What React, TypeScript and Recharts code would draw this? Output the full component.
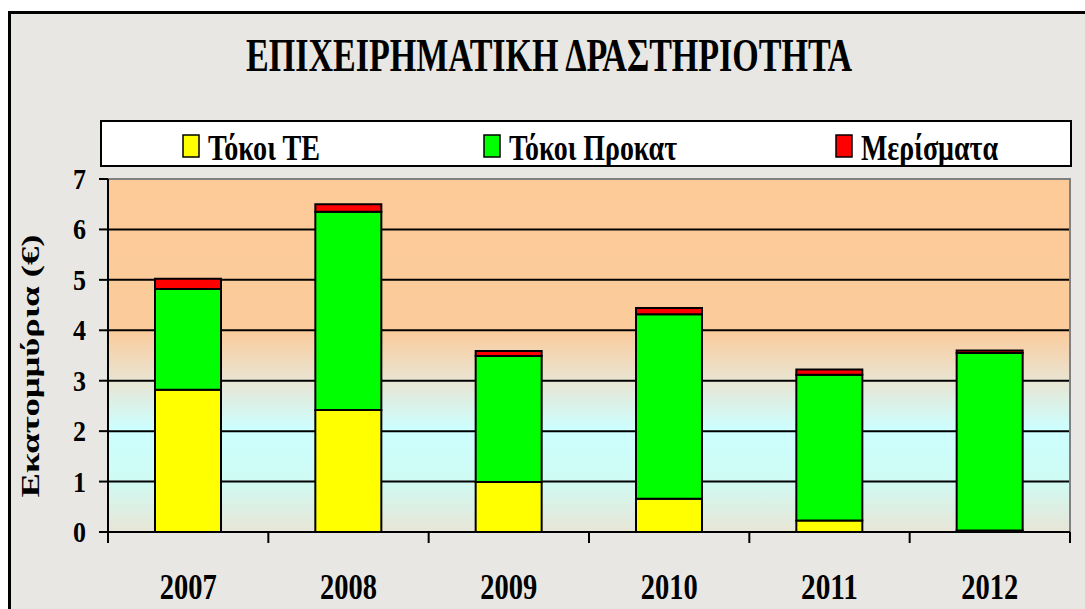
import { Bar, BarChart, CartesianGrid, Legend, ReferenceArea, XAxis, YAxis } from "recharts";

const years = ["2007", "2008", "2009", "2010", "2011", "2012"];
const tokoiTE = [2.82, 2.42, 0.99, 0.66, 0.23, 0.03];
const tokoiProkat = [2.0, 3.93, 2.5, 3.66, 2.89, 3.52];
const merismata = [0.2, 0.15, 0.1, 0.12, 0.1, 0.05];
const yTicks = [0, 1, 2, 3, 4, 5, 6, 7];

const seriesNames = ["Τόκοι ΤΕ", "Τόκοι Προκατ", "Μερίσματα"];
const seriesColors = ["#ffff00", "#00ff00", "#ff0000"];

const FONT = '"Liberation Serif", "Times New Roman", serif';

const data = years.map((year, i) => ({
	year,
	te: tokoiTE[i],
	prokat: tokoiProkat[i],
	merisma: merismata[i],
}));

// legend layout (square x, text width) per entry, relative to the legend box
const legendSlots = [
	{ x: 83, w: 112 },
	{ x: 384, w: 168 },
	{ x: 736, w: 137 },
];

function LegendBox({ payload }: any) {
	// stacked bars come back in reverse order, put them back in series order
	const items = [...(payload ?? [])].sort(
		(a: any, b: any) => seriesNames.indexOf(a.value) - seriesNames.indexOf(b.value),
	);
	return (
		<svg width={972} height={47} style={{ display: "block" }}>
			<rect x={1} y={1} width={970} height={45} fill="#fff" stroke="#000" strokeWidth={2} />
			{items.map((entry: any, i: number) => {
				const slot = legendSlots[i];
				if (!slot) return null;
				return (
					<g key={entry.value}>
						<rect x={slot.x} y={15} width={16} height={22} fill={entry.color} stroke="#000" strokeWidth={1.5} />
						<text
							x={slot.x + 25}
							y={40}
							fontFamily={FONT}
							fontWeight="bold"
							fontSize={35}
							textLength={slot.w}
							lengthAdjust="spacingAndGlyphs"
							fill="#000"
						>
							{entry.value}
						</text>
					</g>
				);
			})}
		</svg>
	);
}

function YTick({ x, y, payload }: any) {
	return (
		<text
			x={x}
			y={y + 10}
			textAnchor="end"
			fontFamily={FONT}
			fontWeight="bold"
			fontSize={30}
			textLength={13}
			lengthAdjust="spacingAndGlyphs"
			fill="#000"
		>
			{payload.value}
		</text>
	);
}

function XTick({ x, y, payload, index, visibleTicksCount }: any) {
	const half = payload.offset || 80.2;
	return (
		<g>
			<line x1={x - half} x2={x - half} y1={y} y2={y + 11} stroke="#000" strokeWidth={2} />
			{index === visibleTicksCount - 1 && (
				<line x1={x + half} x2={x + half} y1={y} y2={y + 11} stroke="#000" strokeWidth={2} />
			)}
			<text
				x={x}
				y={y + 67}
				textAnchor="middle"
				fontFamily={FONT}
				fontWeight="bold"
				fontSize={35}
				textLength={57}
				lengthAdjust="spacingAndGlyphs"
				fill="#000"
			>
				{payload.value}
			</text>
		</g>
	);
}

export default function App() {
	return (
		<div
			style={{
				position: "absolute",
				left: 0,
				top: 0,
				width: 1085,
				height: 609,
				overflow: "hidden",
				background: "#fff",
			}}
		>
			<div
				style={{
					position: "absolute",
					left: 8,
					top: 11,
					width: 1100,
					height: 620,
					border: "3px solid #000",
					background: "#e8e7e3",
				}}
			/>
			<div style={{ position: "absolute", left: 0, top: 0 }}>
				<BarChart
					width={1085}
					height={609}
					data={data}
					margin={{ top: 179, right: 15, left: 48, bottom: 17 }}
					barSize={66}
				>
					<defs>
						<linearGradient id="plotBg" x1="0" y1="0" x2="0" y2="1">
							<stop offset="0" stopColor="#fdcb98" />
							<stop offset="0.43" stopColor="#fbcb9b" />
							<stop offset="0.57" stopColor="#e9e4d2" />
							<stop offset="0.71" stopColor="#ccffff" />
							<stop offset="0.85" stopColor="#cffbf4" />
							<stop offset="1" stopColor="#e8e5d6" />
						</linearGradient>
					</defs>
					<CartesianGrid
						vertical={false}
						horizontalValues={[1, 2, 3, 4, 5, 6]}
						stroke="#000"
						strokeWidth={2}
						fill="url(#plotBg)"
						fillOpacity={1}
					/>
					<ReferenceArea y1={0} y2={7} fill="none" stroke="#808080" strokeWidth={2} />
					<XAxis
						dataKey="year"
						height={60}
						axisLine={{ stroke: "#000", strokeWidth: 2 }}
						tickLine={false}
						tickSize={0}
						tickMargin={0}
						tick={<XTick />}
						interval={0}
					/>
					<YAxis
						width={60}
						domain={[0, 7]}
						ticks={yTicks}
						interval={0}
						axisLine={{ stroke: "#000", strokeWidth: 2 }}
						tickLine={{ stroke: "#000", strokeWidth: 2 }}
						tickSize={9}
						tickMargin={13}
						tick={<YTick />}
					/>
					<Legend
						layout="horizontal"
						align="center"
						verticalAlign="middle"
						wrapperStyle={{ position: "absolute", left: 100, top: 120, width: 972, height: 47 }}
						content={<LegendBox />}
					/>
					<Bar dataKey="te" name={seriesNames[0]} stackId="a" fill={seriesColors[0]} stroke="#000" strokeWidth={2} isAnimationActive={false} />
					<Bar dataKey="prokat" name={seriesNames[1]} stackId="a" fill={seriesColors[1]} stroke="#000" strokeWidth={2} isAnimationActive={false} />
					<Bar dataKey="merisma" name={seriesNames[2]} stackId="a" fill={seriesColors[2]} stroke="#000" strokeWidth={2} isAnimationActive={false} />
				</BarChart>
			</div>
			<svg
				width={1085}
				height={609}
				style={{ position: "absolute", left: 0, top: 0, pointerEvents: "none" }}
			>
				<text
					x={549}
					y={71}
					textAnchor="middle"
					fontFamily={FONT}
					fontWeight="bold"
					fontSize={46}
					textLength={606}
					lengthAdjust="spacingAndGlyphs"
					fill="#000"
				>
					ΕΠΙΧΕΙΡΗΜΑΤΙΚΗ ΔΡΑΣΤΗΡΙΟΤΗΤΑ
				</text>
				<g transform="translate(31,366) scale(0.75,1) rotate(-90)">
					<text
						x={0}
						y={0}
						textAnchor="middle"
						dominantBaseline="central"
						fontFamily={FONT}
						fontWeight="bold"
						fontSize={34}
						textLength={263}
						lengthAdjust="spacingAndGlyphs"
						fill="#000"
					>
						Εκατομμύρια (€)
					</text>
				</g>
			</svg>
		</div>
	);
}
